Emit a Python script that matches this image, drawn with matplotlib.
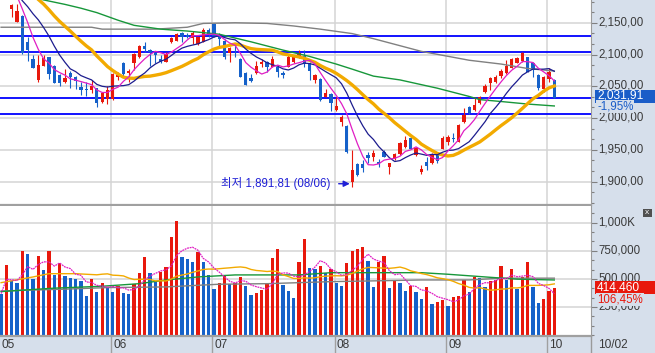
import numpy as np
import pandas as pd
import matplotlib
matplotlib.use('Agg')
import matplotlib.pyplot as plt
import matplotlib.transforms as mtransforms
from matplotlib.ticker import FixedLocator, AutoMinorLocator, FuncFormatter
from matplotlib.patches import Rectangle
from matplotlib.lines import Line2D

plt.rcParams['font.family'] = ['Liberation Sans', 'Noto Sans CJK KR', 'DejaVu Sans']

W, H = 655, 353

# ---------------- data (daily, 2019-05-02 .. 2019-10-02) ----------------
opens = [2203.0, 2205.0, 2171.7, 2151.7, 2161.1, 2120.2, 2092.9, 2059.9, 2082.4, 2095.6,
         2082.4, 2067.7, 2056.2, 2070.4, 2065.1, 2049.3, 2046.2, 2044.1, 2047.7, 2024.7,
         2029.5, 2029.9, 2064.1, 2086.2, 2070.4, 2086.2, 2095.6, 2113.9, 2107.1, 2101.9,
         2092.9, 2088.7, 2119.2, 2121.8, 2133.4, 2130.7, 2126.5, 2116.6, 2120.2, 2138.6,
         2148.1, 2129.2, 2121.8, 2102.9, 2116.1, 2092.9, 2071.4, 2063.5, 2070.4, 2085.1,
         2088.7, 2080.8, 2080.8, 2071.4, 2080.8, 2088.7, 2095.6, 2097.7, 2086.2, 2059.9,
         2061.4, 2033.6, 2037.8, 2012.6, 1994.2, 1987.9, 1899.7, 1927.1, 1927.6, 1941.7,
         1939.1, 1931.2, 1946.9, 1923.3, 1935.4, 1943.3, 1954.8, 1969.0, 1941.7, 1914.5,
         1931.2, 1929.6, 1945.4, 1951.2, 1961.7, 1968.0, 1962.7, 1994.2, 2017.8, 2012.6,
         2024.1, 2041.4, 2055.6, 2057.2, 2066.2, 2070.4, 2079.2, 2087.1, 2089.8, 2095.6,
         2087.1, 2067.7, 2045.2, 2061.0, 2059.9]
highs = [2216.0, 2209.0, 2179.6, 2179.6, 2162.2, 2127.1, 2099.2, 2099.2, 2099.2, 2095.6,
         2083.5, 2069.3, 2076.7, 2074.0, 2066.2, 2057.2, 2056.2, 2059.9, 2047.7, 2041.4,
         2050.4, 2070.4, 2072.9, 2088.7, 2076.7, 2101.9, 2115.0, 2119.2, 2108.7, 2104.4,
         2099.2, 2103.5, 2128.1, 2134.4, 2135.9, 2134.4, 2137.0, 2128.1, 2141.3, 2141.3,
         2149.2, 2133.4, 2124.0, 2111.4, 2117.7, 2094.0, 2072.9, 2069.3, 2089.8, 2092.5,
         2090.3, 2097.7, 2083.5, 2074.5, 2099.2, 2099.2, 2107.1, 2107.1, 2088.7, 2069.3,
         2062.5, 2045.2, 2038.9, 2033.6, 2004.7, 1989.0, 1949.6, 1928.7, 1933.9, 1946.9,
         1949.6, 1935.0, 1949.6, 1929.6, 1944.4, 1962.7, 1971.7, 1970.6, 1954.8, 1926.0,
         1939.1, 1944.4, 1946.9, 1971.7, 1973.2, 1976.9, 1990.1, 2016.2, 2018.9, 2032.6,
         2034.7, 2053.1, 2065.1, 2067.7, 2076.7, 2091.4, 2094.0, 2096.6, 2103.5, 2096.6,
         2088.7, 2068.8, 2066.2, 2079.2, 2061.0]
lows = [2195.0, 2191.0, 2159.6, 2151.7, 2101.0, 2089.8, 2078.3, 2057.2, 2082.4, 2061.4,
        2054.7, 2050.9, 2054.7, 2047.7, 2045.7, 2036.2, 2035.1, 2038.9, 2016.9, 2024.1,
        2022.1, 2028.4, 2059.9, 2066.2, 2057.2, 2075.6, 2094.0, 2103.5, 2082.4, 2086.2,
        2087.1, 2087.7, 2118.6, 2121.3, 2120.2, 2125.5, 2116.6, 2115.0, 2119.2, 2127.1,
        2128.1, 2112.3, 2092.5, 2088.7, 2096.6, 2064.1, 2052.0, 2057.2, 2069.3, 2080.8,
        2072.9, 2079.9, 2064.1, 2062.5, 2079.9, 2086.2, 2094.0, 2080.8, 2059.9, 2054.7,
        2026.8, 2032.6, 2011.0, 2011.5, 1987.4, 1945.4, 1891.81, 1908.7, 1915.4, 1928.7,
        1932.8, 1923.3, 1938.1, 1911.8, 1933.9, 1941.7, 1953.2, 1950.7, 1940.6, 1911.3,
        1918.1, 1927.6, 1928.7, 1950.7, 1957.5, 1961.7, 1961.7, 1992.6, 2006.3, 2011.5,
        2022.1, 2038.9, 2044.1, 2054.7, 2063.5, 2068.8, 2078.3, 2086.2, 2088.7, 2072.0,
        2064.1, 2044.1, 2041.4, 2057.2, 2031.5]
closes = [2212.75, 2196.32, 2178.0, 2168.5, 2101.9, 2107.1, 2079.2, 2083.5, 2094.0, 2069.3,
          2055.6, 2055.6, 2063.5, 2065.1, 2058.7, 2044.1, 2044.1, 2050.9, 2023.2, 2038.9,
          2044.1, 2069.3, 2067.7, 2069.3, 2074.0, 2100.3, 2113.9, 2108.7, 2103.5, 2099.2,
          2088.7, 2100.8, 2126.5, 2132.4, 2127.1, 2128.1, 2134.4, 2127.1, 2138.6, 2130.7,
          2129.7, 2124.0, 2095.6, 2109.8, 2113.9, 2065.1, 2052.0, 2058.7, 2081.9, 2088.7,
          2080.8, 2092.5, 2072.9, 2067.7, 2096.6, 2095.6, 2102.9, 2085.1, 2074.5, 2067.7,
          2028.4, 2039.9, 2024.1, 2018.9, 2002.1, 1946.9, 1918.1, 1910.2, 1920.8, 1936.5,
          1944.4, 1927.6, 1939.1, 1928.7, 1942.8, 1961.1, 1965.4, 1951.2, 1952.3, 1919.2,
          1924.9, 1942.8, 1932.8, 1969.0, 1970.6, 1966.5, 1989.0, 2004.7, 2007.4, 2020.5,
          2032.6, 2050.9, 2063.5, 2064.1, 2074.0, 2082.4, 2092.5, 2094.0, 2101.9, 2072.9,
          2075.6, 2047.7, 2065.1, 2072.3, 2031.91]
volume_k = [368, 624, 481, 466, 748, 725, 502, 704, 579, 748,
            535, 642, 526, 508, 500, 481, 348, 499, 384, 464,
            428, 386, 440, 377, 368, 455, 555, 695, 555, 481,
            564, 606, 873, 1015, 695, 677, 651, 740, 651, 535,
            413, 464, 526, 452, 461, 517, 437, 357, 377, 401,
            464, 689, 766, 446, 392, 330, 651, 858, 597, 588,
            615, 550, 591, 466, 437, 642, 748, 766, 784, 659,
            428, 653, 704, 419, 481, 466, 392, 437, 386, 324,
            428, 280, 289, 315, 259, 339, 348, 488, 384, 517,
            511, 428, 481, 490, 615, 490, 588, 413, 517, 651,
            428, 286, 321, 389, 414.46]

# closes before the first candle (April), only feed the moving averages
hist_close = [2203.27, 2206.53, 2209.61, 2210.60, 2213.49, 2224.66, 2224.36, 2233.45, 2242.88, 2245.89,
              2248.63, 2228.70, 2216.15, 2216.15, 2220.51, 2201.03, 2190.50, 2179.31, 2215.08, 2203.59]

# long averages
ma60_idx = [0, 8, 12, 15, 18, 22, 25, 30, 35, 41, 47, 53, 58, 63, 66, 70, 75, 82, 88, 90, 94, 99, 104]
ma60_val = [2205, 2186, 2179, 2173, 2166, 2154, 2146, 2140, 2137, 2132, 2120, 2107, 2097, 2085, 2077,
            2066, 2060, 2047, 2034, 2029, 2026, 2022, 2019]
ma120_idx = [0, 17, 19, 29, 35, 38, 44, 50, 55, 60, 66, 70, 79, 88, 94, 99, 104]
ma120_val = [2143, 2143, 2140, 2140, 2143, 2149, 2150, 2149, 2145, 2140, 2133, 2125, 2105, 2091, 2085,
             2078, 2074]

vol20_head_idx = [0, 6, 9, 14, 18]
vol20_head_val = [466, 517, 546, 546, 536]
vol60_idx = [0, 4, 10, 19, 26, 31, 37, 44, 56, 62, 79, 84, 91, 97, 104]
vol60_val = [386, 399, 417, 434, 457, 490, 517, 535, 535, 555, 555, 541, 517, 497, 490]
vol120_idx = [0, 12, 20, 31, 41, 50, 62, 69, 79, 88, 94, 104]
vol120_val = [392, 408, 422, 428, 452, 457, 475, 481, 490, 490, 506, 506]

level_lines = [2129.2, 2103.5, 2031.91, 2005.8]
month_first = [21, 40, 63, 84, 103]
month_labels = ['06', '07', '08', '09', '10']
price_ticks = [1900, 1950, 2000, 2050, 2100, 2150]
vol_ticks = [250, 500, 750, 1000]

RED = '#E8180C'
BLUE = '#1561C9'
PANEL = '#D6DFEB'
GRID = '#D4D4D4'

# ---------------- figure ----------------
fig = plt.figure(figsize=(W / 100, H / 100), dpi=100, facecolor=PANEL)
ax_p = fig.add_axes([0, 1 - 205 / H, 591 / W, 205 / H])
ax_v = fig.add_axes([0, 1 - 336 / H, 591 / W, 130 / H])

o = np.array(opens); hi = np.array(highs); lo = np.array(lows); c = np.array(closes)
vol = np.array(volume_k, dtype=float)
idx = np.arange(len(c))
up = c >= o

x0, x1 = -0.207, 110.9
for ax in (ax_p, ax_v):
    ax.set_facecolor('white')
    ax.set_xlim(x0, x1)
    ax.set_xticks([])
    for m in month_first:
        ax.axvline(m - 0.3, color=GRID, lw=1.1, zorder=0)
    for s in ('left', 'top'):
        ax.spines[s].set_visible(False)
    ax.spines['right'].set_color('#9A9A9A')
    ax.spines['bottom'].set_color('#A0A0A0')
    ax.spines['bottom'].set_linewidth(1.6)
    ax.yaxis.tick_right()
    ax.tick_params(axis='y', which='major', direction='out', length=4.3, width=0.8,
                   color='#808080', pad=1, labelsize=8.3, labelcolor='#3A3A3A')
    ax.tick_params(axis='y', which='minor', direction='out', length=2.4, width=0.8, color='#808080')

# price panel
ax_p.set_ylim(1863.0, 2185.9)
for t in price_ticks:
    ax_p.axhline(t, color=GRID, lw=1.1, zorder=0)
for lv in level_lines:
    ax_p.axhline(lv, color='#0000FF', lw=1.3, zorder=1)

col = np.where(up, RED, BLUE)
ax_p.vlines(idx, lo, hi, colors=col, lw=0.8, zorder=2)
body_h = np.maximum(np.abs(c - o), 1.2)
ax_p.bar(idx, body_h, bottom=np.minimum(o, c), width=0.62, color=col, lw=0, zorder=2)

all_close = pd.Series(np.r_[hist_close, closes])
n_hist = len(hist_close)
ma5 = all_close.rolling(5).mean().to_numpy()[n_hist:]
ma10 = all_close.rolling(10).mean().to_numpy()[n_hist:]
ma20 = all_close.rolling(20).mean().to_numpy()[n_hist:]
ax_p.plot(ma120_idx, ma120_val, color='#808080', lw=1.0, zorder=3)
ax_p.plot(ma60_idx, ma60_val, color='#17973A', lw=1.0, zorder=3)
ax_p.plot(idx, ma20, color='#F2AA00', lw=2.4, zorder=3)
ax_p.plot(idx, ma10, color='#1C1C8E', lw=0.9, zorder=3)
ax_p.plot(idx, ma5, color='#E01EC4', lw=0.9, zorder=3)

ax_p.yaxis.set_major_locator(FixedLocator(price_ticks))
ax_p.yaxis.set_minor_locator(AutoMinorLocator(3))
ax_p.yaxis.set_major_formatter(FuncFormatter(lambda v, p: f'{int(v):,},00'))

ax_p.annotate('최저 1,891,81 (08/06)', xy=(65.55, 1896.5), xytext=(61.9, 1896.5),
              ha='right', va='center', fontsize=8.3, color='#1F1FD6',
              arrowprops=dict(arrowstyle='-|>', color='#1F1FD6', lw=1.0,
                              mutation_scale=9, shrinkA=4, shrinkB=0))

# volume panel
ax_v.set_ylim(-10, 1150)
for t in vol_ticks:
    ax_v.axhline(t, color=GRID, lw=1.1, zorder=0)
vol_up = np.r_[False, vol[1:] > vol[:-1]]
ax_v.bar(idx, vol, width=0.62, color=np.where(vol_up, RED, BLUE), lw=0, zorder=2)

vs = pd.Series(vol)
v5 = vs.rolling(5, min_periods=1).mean().to_numpy()
v20 = vs.rolling(20).mean().to_numpy()
v20_x = np.r_[vol20_head_idx, idx[19:]]
v20_y = np.r_[vol20_head_val, v20[19:]]
ax_v.plot(vol120_idx, vol120_val, color='#808080', lw=1.0, zorder=3)
ax_v.plot(vol60_idx, vol60_val, color='#17973A', lw=1.0, zorder=3)
ax_v.plot(v20_x, v20_y, color='#F2AA00', lw=1.0, zorder=3)
ax_v.plot(idx, v5, color='#E01EC4', lw=0.9, ls=(0, (1.5, 0.6)), zorder=3)

ax_v.yaxis.set_major_locator(FixedLocator(vol_ticks))
ax_v.yaxis.set_minor_locator(AutoMinorLocator(3))
ax_v.yaxis.set_major_formatter(FuncFormatter(
    lambda v, p: '1,000K' if v >= 1000 else f'{int(v * 1000):,}'))

# tick labels sit a little above their ticks in the original
lift = mtransforms.ScaledTranslation(0, 2 / 100, fig.dpi_scale_trans)
for ax in (ax_p, ax_v):
    for lab in ax.get_yticklabels():
        lab.set_transform(lab.get_transform() + lift)

# ---------------- right panel boxes ----------------
def fx(px):
    return px / W

def fy(py):
    return 1 - py / H

fig.patches.append(Rectangle((fx(595), fy(102.5)), fx(60), 13 / H, transform=fig.transFigure,
                             facecolor='#1A5DC8', edgecolor='none', zorder=4))
fig.text(fx(597), fy(96), '2,031,91', color='white', fontsize=8.6, va='center', ha='left', zorder=5)
fig.text(fx(597), fy(106.5), '-1,95%', color='#1A5DC8', fontsize=8.3, va='center', ha='left', zorder=5,
         bbox=dict(facecolor=PANEL, edgecolor='none', pad=0.6))

fig.patches.append(Rectangle((fx(595), fy(294)), fx(60), 13 / H, transform=fig.transFigure,
                             facecolor=RED, edgecolor='none', zorder=4))
fig.text(fx(597), fy(288), '414,460', color='white', fontsize=8.6, va='center', ha='left', zorder=5)
fig.text(fx(597), fy(299.5), '106,45%', color=RED, fontsize=8.3, va='center', ha='left', zorder=5,
         bbox=dict(facecolor=PANEL, edgecolor='none', pad=0.6))

fig.patches.append(Rectangle((fx(643), fy(216.5)), fx(9), 8 / H, transform=fig.transFigure,
                             facecolor='#505050', edgecolor='none', zorder=4))
fig.text(fx(647.5), fy(212.3), 'x', color='white', fontsize=6, va='center', ha='center', zorder=5)

# ---------------- bottom date strip ----------------
blend = mtransforms.blended_transform_factory(ax_v.transData, fig.transFigure)
for m, lab in zip(month_first, month_labels):
    fig.lines.append(Line2D([m - 0.3, m - 0.3], [fy(336), 0], transform=blend,
                            color='#A0A0A0', lw=1.0))
    fig.text(m - 0.3 + 0.35, fy(345.5), lab, transform=blend, fontsize=8.6,
             color='#3A3A3A', va='center', ha='left')
fig.text(fx(1), fy(345.5), '05', fontsize=8.6, color='#3A3A3A', va='center', ha='left')
fig.lines.append(Line2D([fx(591), fx(591)], [fy(336), 0], transform=fig.transFigure,
                        color='#9A9A9A', lw=1.0))
fig.text(fx(598), fy(345.5), '10/02', fontsize=8.6, color='#3A3A3A', va='center', ha='left')

fig.savefig('out.png', dpi=100, facecolor=fig.get_facecolor())
